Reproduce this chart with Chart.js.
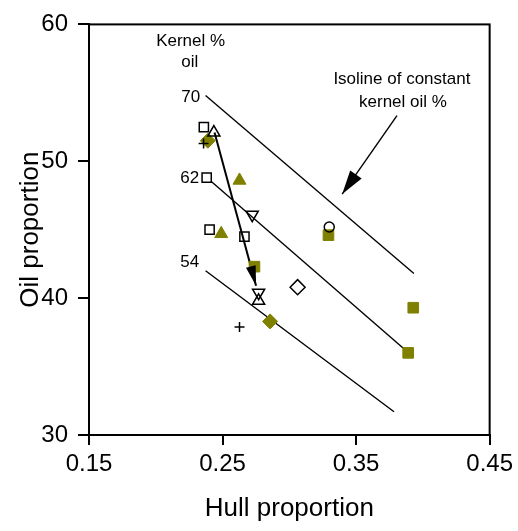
<!DOCTYPE html>
<html>
<head>
<meta charset="utf-8">
<script src="https://cdn.jsdelivr.net/npm/chart.js@4.4.1/dist/chart.umd.min.js"></script>
<style>
  html, body { margin: 0; padding: 0; background: #fff; }
</style>
</head>
<body>
<canvas id="hullOilChart" width="518" height="531"></canvas>
<script>
const xTicks = [0.15, 0.25, 0.35, 0.45];
const yTicks = [30, 40, 50, 60];

// [hull proportion, oil proportion]
const openSquares = [[0.236, 52.5], [0.2381, 48.8], [0.2403, 45.0], [0.2664, 44.5]];
const openTrianglesUp = [[0.2435, 52.1], [0.277, 39.8]];
const openTrianglesDown = [[0.2722, 46.1], [0.277, 40.4]];
const openDiamonds = [[0.3062, 40.8]];
const openCircles = [[0.3299, 45.2]];
const crosses = [[0.2358, 51.3], [0.2627, 37.9]];
const oliveDiamonds = [[0.239, 51.5], [0.2856, 38.3]];
const oliveTriangles = [[0.2627, 48.6], [0.249, 44.7]];
const oliveSquares = [[0.2739, 42.3], [0.3293, 44.6], [0.3928, 39.3], [0.389, 36.0]];

// isolines of constant kernel oil %
const isolineLabels = ['70', '62', '54'];
const isolines = [
  [[0.2373, 54.8], [0.3933, 41.8]],
  [[0.2418, 48.5], [0.3858, 36.3]],
  [[0.2373, 42.0], [0.3784, 31.7]]
];
const shiftLine = [[0.244, 52.1], [0.2751, 40.9]];

const OLIVE = '#808000';
const FONT = '"Liberation Sans", Arial, sans-serif';

const pts = arr => arr.map(p => ({ x: p[0], y: p[1] }));

function markers(data, style, opts) {
  return Object.assign({
    type: 'scatter',
    data: pts(data),
    pointStyle: style,
    pointRadius: 6,
    pointBorderColor: '#000',
    pointBackgroundColor: 'rgba(0,0,0,0)',
    pointBorderWidth: 1.5,
    order: 0
  }, opts || {});
}

function lineSet(data, width) {
  return {
    type: 'line',
    data: pts(data),
    borderColor: '#000',
    borderWidth: width,
    pointRadius: 0,
    fill: false,
    order: 2
  };
}

const datasets = [
  ...isolines.map(l => lineSet(l, 1.4)),
  lineSet(shiftLine, 2),
  markers(openSquares, 'rect', { pointRadius: 6.5 }),
  markers(openTrianglesUp, 'triangle', { pointRadius: 7 }),
  markers(openTrianglesDown, 'triangle', { pointRadius: 7, rotation: 180 }),
  markers(openDiamonds, 'rectRot', { pointRadius: 7.5 }),
  markers(openCircles, 'circle', { pointRadius: 5 }),
  markers(crosses, 'cross', { pointRadius: 5 }),
  markers(oliveDiamonds, 'rectRot', { pointRadius: 7.5, pointBackgroundColor: OLIVE, pointBorderColor: OLIVE, pointBorderWidth: 1 }),
  markers(oliveTriangles, 'triangle', { pointRadius: 7.5, pointBackgroundColor: OLIVE, pointBorderColor: OLIVE, pointBorderWidth: 1 }),
  markers(oliveSquares, 'rect', { pointRadius: 7.5, pointBackgroundColor: OLIVE, pointBorderColor: OLIVE, pointBorderWidth: 1 })
];

const notes = [
  { text: 'Kernel %', x: 0.2261, y: 58.8 },
  { text: 'oil', x: 0.2254, y: 57.2 },
  { text: isolineLabels[0], x: 0.2261, y: 54.64 },
  { text: isolineLabels[1], x: 0.2254, y: 48.77 },
  { text: isolineLabels[2], x: 0.2254, y: 42.6 },
  { text: 'Isoline of constant', x: 0.3843, y: 56.0 },
  { text: 'kernel oil %', x: 0.3851, y: 54.28 }
];
const pointer = { from: [0.3806, 53.33], to: [0.3396, 47.6] };

function arrowHead(ctx, x0, y0, x1, y1, len, half) {
  const a = Math.atan2(y1 - y0, x1 - x0);
  const bx = x1 - Math.cos(a) * len, by = y1 - Math.sin(a) * len;
  ctx.beginPath();
  ctx.moveTo(x1, y1);
  ctx.lineTo(bx + Math.sin(a) * half, by - Math.cos(a) * half);
  ctx.lineTo(bx - Math.sin(a) * half, by + Math.cos(a) * half);
  ctx.closePath();
  ctx.fill();
}

const decorations = {
  id: 'decorations',
  afterDatasetsDraw(chart) {
    const { ctx, chartArea: a, scales: { x, y } } = chart;
    ctx.save();
    ctx.strokeStyle = '#000';
    ctx.fillStyle = '#000';
    ctx.lineWidth = 2;
    ctx.strokeRect(a.left, a.top, a.right - a.left, a.bottom - a.top);

    ctx.font = '17px ' + FONT;
    ctx.textAlign = 'center';
    ctx.textBaseline = 'middle';
    notes.forEach(n => ctx.fillText(n.text, x.getPixelForValue(n.x), y.getPixelForValue(n.y)));

    // pointer from the isoline note
    const px0 = x.getPixelForValue(pointer.from[0]), py0 = y.getPixelForValue(pointer.from[1]);
    const px1 = x.getPixelForValue(pointer.to[0]), py1 = y.getPixelForValue(pointer.to[1]);
    ctx.lineWidth = 1.4;
    ctx.beginPath();
    ctx.moveTo(px0, py0);
    ctx.lineTo(px1, py1);
    ctx.stroke();
    arrowHead(ctx, px0, py0, px1, py1, 24, 7);

    // head of the shift line
    const s0 = shiftLine[0], s1 = shiftLine[1];
    arrowHead(ctx, x.getPixelForValue(s0[0]), y.getPixelForValue(s0[1]),
      x.getPixelForValue(s1[0]), y.getPixelForValue(s1[1]), 20, 5);
    ctx.restore();
  }
};

const tickFont = { family: FONT, size: 24 };
const titleFont = { family: FONT, size: 26 };

new Chart(document.getElementById('hullOilChart'), {
  type: 'scatter',
  data: { datasets },
  options: {
    responsive: false,
    animation: false,
    layout: { padding: { top: 21, right: 27, left: 0, bottom: 0 } },
    plugins: { legend: { display: false }, tooltip: { enabled: false } },
    scales: {
      x: {
        type: 'linear',
        min: 0.15,
        max: 0.45,
        afterBuildTicks: s => { s.ticks = xTicks.map(v => ({ value: v })); },
        afterFit: s => { s.height = 96; },
        ticks: { font: tickFont, color: '#000', padding: 5, maxRotation: 0, callback: v => v.toFixed(2) },
        grid: { drawOnChartArea: false, color: '#000', lineWidth: 2, tickLength: 10 },
        border: { color: '#000', width: 2 },
        title: { display: true, text: 'Hull proportion', font: titleFont, color: '#000', padding: { bottom: 7 } }
      },
      y: {
        type: 'linear',
        min: 30,
        max: 60,
        afterBuildTicks: s => { s.ticks = yTicks.map(v => ({ value: v })); },
        afterFit: s => { s.width = 89; },
        ticks: { font: tickFont, color: '#000', padding: 10, callback: v => String(v) },
        grid: { drawOnChartArea: false, color: '#000', lineWidth: 2, tickLength: 11 },
        border: { color: '#000', width: 2 },
        title: { display: true, text: 'Oil proportion', font: titleFont, color: '#000', padding: { top: 15 } }
      }
    }
  },
  plugins: [decorations]
});
</script>
</body>
</html>
